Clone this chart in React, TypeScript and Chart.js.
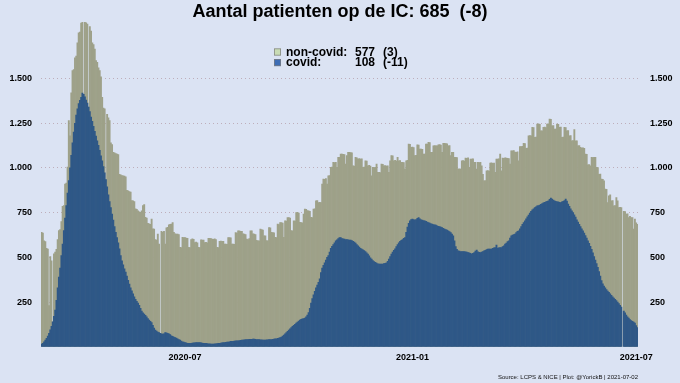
import React, { useEffect, useRef } from 'react';
import { Chart, registerables } from 'chart.js';

Chart.register(...registerables);

// ---------- data ----------
const START_DATE = '2020-03-07';

// covid patients on the ICU (daily)
const covid: (number | null)[] = [
  15, 20, 28, 38, 48, 60, 75, 95, 115, 140,
  170, 205, 260, 330, 390, 440, 510, 575, 650, 720,
  790, 860, 930, 1000, 1070, 1140, 1200, 1250, 1295, 1330,
  1360, 1378, 1395, 1418, 1412, 1398, 1380, 1362, 1340, 1315,
  1285, 1260, 1232, 1205, 1178, 1152, 1126, 1098, 1068, 1040,
  1008, 972, 935, 895, 850, 812, 778, 742, 708, 672,
  640, 610, 582, 548, 510, 480, 458, 436, 418, 395,
  372, 350, 330, 313, 296, 280, 266, 254, 244, 232,
  215, 200, 190, 183, 176, 168, 158, 150, 143, 136,
  120, 105, 93, 88, 83, 80, 76, 73, 71, 73,
  80, 78, 75, 72, 68, 62, 58, 55, 52, 49,
  45, 41, 37, 32, 28, 26, 24, 22, 20, 19,
  19, 20, 21, 22, 22, 23, 24, 24, 23, 22,
  21, 20, 19, 19, 18, 17, 16, 15, 15, 15,
  16, 17, 18, 19, 20, 21, 22, 23, 24, 25,
  26, 27, 28, 30, 30, 31, 32, 33, 34, 34,
  35, 36, 37, 38, 39, 40, 40, 41, 42, 42,
  42, 43, 43, 42, 41, 40, 40, 39, 39, 38,
  38, 38, 39, 39, 40, 40, 41, 42, 43, 44,
  45, 47, 49, 52, 55, 60, 66, 73, 80, 87,
  94, 100, 107, 114, 120, 126, 132, 138, 144, 149,
  153, 156, 158, 160, 168, 178, 192, 215, 245, 270,
  290, 310, 330, 345, 360, 380, 415, 440, 455, 470,
  485, 500, 510, 530, 550, 562, 572, 582, 592, 598,
  605, 610, 610, 605, 603, 602, 600, 600, 598, 597,
  596, 594, 590, 585, 580, 572, 565, 558, 550, 546,
  542, 538, 532, 525, 518, 508, 498, 490, 482, 476,
  472, 468, 464, 462, 462, 462, 463, 465, 466, 470,
  478, 490, 505, 518, 530, 540, 548, 560, 572, 582,
  590, 595, 600, 606, 611, 640, 670, 690, 705, 712,
  714, 712, 708, 712, 718, 722, 716, 710, 708, 706,
  705, 702, 698, 695, 692, 688, 686, 684, 682, 680,
  677, 674, 672, 670, 666, 662, 658, 655, 652, 648,
  644, 639, 630, 621, 593, 560, 545, 537, 535, 533,
  533, 532, 533, 531, 529, 527, 525, 522, 518, 522,
  527, 535, 541, 531, 528, 527, 530, 533, 537, 540,
  543, 546, 546, 546, 546, 550, 553, 555, 569, 552,
  553, 555, 555, 560, 565, 574, 580, 588, 593, 608,
  621, 625, 628, 630, 638, 645, 649, 660, 672, 685,
  695, 705, 715, 726, 737, 748, 758, 766, 772, 779,
  783, 788, 790, 793, 797, 801, 805, 808, 811, 813,
  816, 825, 831, 826, 820, 816, 813, 811, 810, 808,
  807, 810, 814, 818, 826, 815, 798, 785, 772, 760,
  750, 738, 725, 710, 698, 685, 672, 660, 648, 636,
  622, 608, 592, 578, 562, 545, 525, 505, 485, 465,
  445, 420, 395, 370, 352, 340, 330, 320, 312, 305,
  296, 288, 280, 272, 265, 258, 250, 242, 232, 222,
  null, 200, 190, 178, 168, 160, 152, 146, 142, 138,
  133, 119, 108,
];

// all patients on the ICU (covid + non-covid), daily
const total: (number | null)[] = [
  640, 636, 592, 588, 550, 546, 230, 505, 480, 140,
  520, 530, 545, 600, 650, 655, 700, 785, 790, 910,
  915, 1005, 1265, 1180, 1420, 1545, 1550, 1615, 1625, 1700,
  1755, 1760, 1810, 1815, 1412, 1815, 1812, 1805, 1340, 1790,
  1765, 1700, 1690, 1665, 1600, 1590, 1560, 1545, 1510, 1395,
  1335, 1330, 935, 1300, 1280, 1265, 1140, 1130, 1087, 1085,
  1080, 1077, 1075, 965, 962, 958, 956, 955, 950, 875,
  872, 868, 865, 818, 816, 812, 772, 768, 760, 755,
  752, 760, 790, 795, 724, 720, 690, 688, 685, 714,
  660, 658, 600, 596, 630, 575, 76, 645, 640, 645,
  575, 665, 668, 682, 685, 686, 695, 640, 632, 630,
  630, 628, 556, 555, 612, 611, 610, 608, 606, 556,
  555, 600, 603, 601, 583, 585, 582, 556, 555, 598,
  597, 596, 583, 584, 582, 607, 606, 605, 602, 601,
  603, 600, 556, 555, 590, 591, 589, 590, 574, 575,
  573, 611, 610, 609, 574, 575, 573, 639, 636, 649,
  648, 646, 645, 632, 630, 628, 602, 600, 605, 649,
  648, 632, 630, 628, 595, 593, 592, 658, 655, 652,
  621, 620, 594, 592, 667, 665, 640, 638, 637, 612,
  610, 686, 684, 695, 694, 692, 612, 705, 703, 723,
  722, 720, 650, 648, 705, 703, 750, 752, 748, 696,
  694, 693, 742, 770, 768, 762, 760, 758, 724, 722,
  770, 772, 816, 818, 807, 808, 806, 910, 938, 936,
  940, 910, 956, 958, 1003, 1005, 1031, 1030, 1032, 1003,
  1059, 1060, 1077, 1078, 1076, 1075, 1021, 1069, 1087, 1088,
  1086, 1085, 1012, 1010, 1059, 1057, 1050, 1052, 1049, 1051,
  1003, 1005, 1040, 1038, 1012, 1014, 1010, 956, 1003, 1002,
  1004, 1021, 975, 976, 974, 1021, 1020, 1012, 1013, 1011,
  1012, 975, 1040, 1069, 1068, 1040, 1042, 1039, 1059, 1040,
  1041, 1031, 1032, 1030, 993, 1040, 1042, 1133, 1132, 1115,
  1116, 1114, 1069, 1070, 1129, 1128, 1105, 1106, 1104, 1077,
  1078, 1133, 1134, 1143, 1142, 1087, 1088, 1124, 1125, 1123,
  1124, 1129, 1130, 1128, 1087, 1137, 1138, 1136, 1135, 1124,
  1125, 1069, 1087, 1088, 1059, 1060, 1058, 993, 995, 994,
  1040, 1041, 1039, 1055, 1054, 1056, 1003, 1050, 1049, 1051,
  1031, 1032, 993, 1031, 1030, 1032, 1012, 965, 928, 930,
  984, 985, 983, 1027, 1028, 1026, 1027, 975, 1050, 1049,
  1051, 1077, 984, 1055, 1054, 1056, 1055, 1054, 1053, 1021,
  1096, 1095, 1097, 1089, 1088, 1090, 1040, 1120, 1119, 1121,
  1137, 1136, 1110, 1111, 1180, 1181, 1179, 1227, 1226, 1171,
  1172, 1245, 1246, 1244, 1208, 1207, 1227, 1228, 1226, 1245,
  1246, 1273, 1272, 1236, 1237, 1217, 1218, 1245, 1244, 1227,
  1228, 1171, 1172, 1227, 1226, 1208, 1209, 1180, 1181, 1152,
  1153, 1214, 1152, 1151, 1124, 1125, 1115, 1111, 1112, 1110,
  1077, 1076, 1018, 1019, 1012, 1059, 1058, 1060, 1059, 1003,
  1002, 965, 966, 938, 937, 928, 882, 881, 807, 844,
  849, 816, 817, 788, 789, 835, 816, 779, 780, 779,
  null, 757, 756, 742, 743, 723, 730, 722, 723, 658,
  714, 693, 685,
];

const xTickDates = ['2020-07-01', '2021-01-01', '2021-07-01'];
const yTickValues = [250, 500, 750, 1000, 1250, 1500];
const Y_MAX = 1816;

const TITLE = 'Aantal patienten op de IC: 685  (-8)';
const SOURCE = 'Source: LCPS & NICE | Plot: @YorickB | 2021-07-02';
const legendLabels = ['non-covid:', 'covid:'];
const legendValues = ['577', '108'];
const legendDeltas = ['(3)', '(-11)'];
const legendBoxColors = ['#c9dcb4', '#3d6db5'];

// ---------- styling ----------
const FONT = '"Liberation Sans", Arial, Helvetica, sans-serif';
const BG = '#dbe3f3';
const COVID_COLOR = '#2f5887';
const NONCOVID_COLOR = '#9ea189';
const GRID_COLOR = 'rgba(185,165,175,0.85)';

function buildDates(start: string, n: number): string[] {
  const t0 = new Date(start + 'T00:00:00Z').getTime();
  const out: string[] = [];
  for (let i = 0; i < n; i++) out.push(new Date(t0 + i * 86400000).toISOString().slice(0, 10));
  return out;
}

function fmtNL(v: number): string {
  return String(v).replace(/\B(?=(\d{3})+(?!\d))/g, '.');
}

const bgPlugin = {
  id: 'bg',
  beforeDraw(chart: any) {
    const { ctx, width, height } = chart;
    ctx.save();
    ctx.fillStyle = BG;
    ctx.fillRect(0, 0, width, height);
    ctx.restore();
  },
};

const legendPlugin = {
  id: 'icLegend',
  afterDraw(chart: any) {
    const { ctx, chartArea } = chart;
    const boxX = chartArea.left + 233;
    const top = chartArea.top + 26;
    ctx.save();
    ctx.font = `bold 12px ${FONT}`;
    ctx.textBaseline = 'alphabetic';
    ctx.textAlign = 'left';
    legendLabels.forEach((lab, i) => {
      const base = top + 7.5 + i * 10.6;
      ctx.fillStyle = legendBoxColors[i];
      ctx.fillRect(boxX, base - 7, 7, 7);
      ctx.strokeStyle = '#7d7d7d';
      ctx.lineWidth = 0.7;
      ctx.strokeRect(boxX + 0.35, base - 6.65, 6.3, 6.3);
      ctx.fillStyle = '#000';
      ctx.fillText(lab, boxX + 12, base);
      ctx.fillText(legendValues[i], boxX + 81, base);
      ctx.fillText(legendDeltas[i], boxX + 109, base);
    });
    ctx.restore();
  },
};

export default function App() {
  const ref = useRef<HTMLCanvasElement | null>(null);

  useEffect(() => {
    document.body.style.margin = '0';
    document.body.style.background = BG;
    const canvas = ref.current;
    if (!canvas) return;
    const labels = buildDates(START_DATE, total.length);
    const tickIdx = xTickDates.map((d) => labels.indexOf(d)).filter((i) => i >= 0);

    const tickFont = { family: FONT, size: 9, weight: 'bold' as const };

    const chart = new Chart(canvas, {
      type: 'bar',
      data: {
        labels,
        datasets: [
          {
            label: 'covid',
            data: covid,
            backgroundColor: COVID_COLOR,
            borderWidth: 0,
            grouped: false,
            barPercentage: 1,
            categoryPercentage: 1,
            yAxisID: 'y',
          },
          {
            label: 'non-covid',
            data: total,
            backgroundColor: NONCOVID_COLOR,
            borderWidth: 0,
            grouped: false,
            barPercentage: 1,
            categoryPercentage: 1,
            yAxisID: 'y',
          },
        ],
      },
      options: {
        responsive: false,
        animation: false,
        devicePixelRatio: 1,
        layout: { padding: 0 },
        plugins: {
          legend: { display: false },
          tooltip: { enabled: false },
          title: {
            display: true,
            text: TITLE,
            color: '#000',
            font: { family: FONT, size: 18, weight: 'bold', lineHeight: 1.1 },
            padding: { top: 2, bottom: 0.2 },
          },
          subtitle: {
            display: true,
            text: SOURCE,
            position: 'bottom',
            align: 'end',
            fullSize: false,
            color: '#111',
            font: { family: FONT, size: 6, lineHeight: 1.2 },
            padding: { top: 2, bottom: 2 },
          },
        },
        scales: {
          x: {
            type: 'category',
            offset: true,
            grid: { display: false, drawTicks: false },
            border: { display: false },
            ticks: {
              autoSkip: false,
              maxRotation: 0,
              minRotation: 0,
              padding: 5,
              color: '#000',
              font: tickFont,
              callback: (v: any) => String(labels[Number(v)] ?? '').slice(0, 7),
            },
            afterBuildTicks: (s: any) => {
              s.ticks = tickIdx.map((i) => ({ value: i }));
            },
            afterFit: (s: any) => {
              s.height = 25;
            },
          },
          y: {
            position: 'left',
            min: 0,
            max: Y_MAX,
            grid: { color: GRID_COLOR, lineWidth: 1, drawTicks: false },
            border: { display: false, dash: [1, 3] },
            ticks: {
              padding: 9,
              color: '#000',
              font: tickFont,
              callback: (v: any) => fmtNL(Number(v)),
            },
            afterBuildTicks: (s: any) => {
              s.ticks = yTickValues.map((v) => ({ value: v }));
            },
            afterFit: (s: any) => {
              s.width = 41;
            },
          },
          y2: {
            position: 'right',
            min: 0,
            max: Y_MAX,
            grid: { display: false, drawTicks: false },
            border: { display: false },
            ticks: {
              padding: 12,
              color: '#000',
              font: tickFont,
              callback: (v: any) => fmtNL(Number(v)),
            },
            afterBuildTicks: (s: any) => {
              s.ticks = yTickValues.map((v) => ({ value: v }));
            },
            afterFit: (s: any) => {
              s.width = 42;
            },
          },
        },
      },
      plugins: [bgPlugin, legendPlugin],
    } as any);

    return () => chart.destroy();
  }, []);

  return (
    <div style={{ position: 'absolute', left: 0, top: 0, width: 680, height: 383, background: BG }}>
      <canvas ref={ref} width={680} height={383} style={{ display: 'block', width: 680, height: 383 }} />
    </div>
  );
}
